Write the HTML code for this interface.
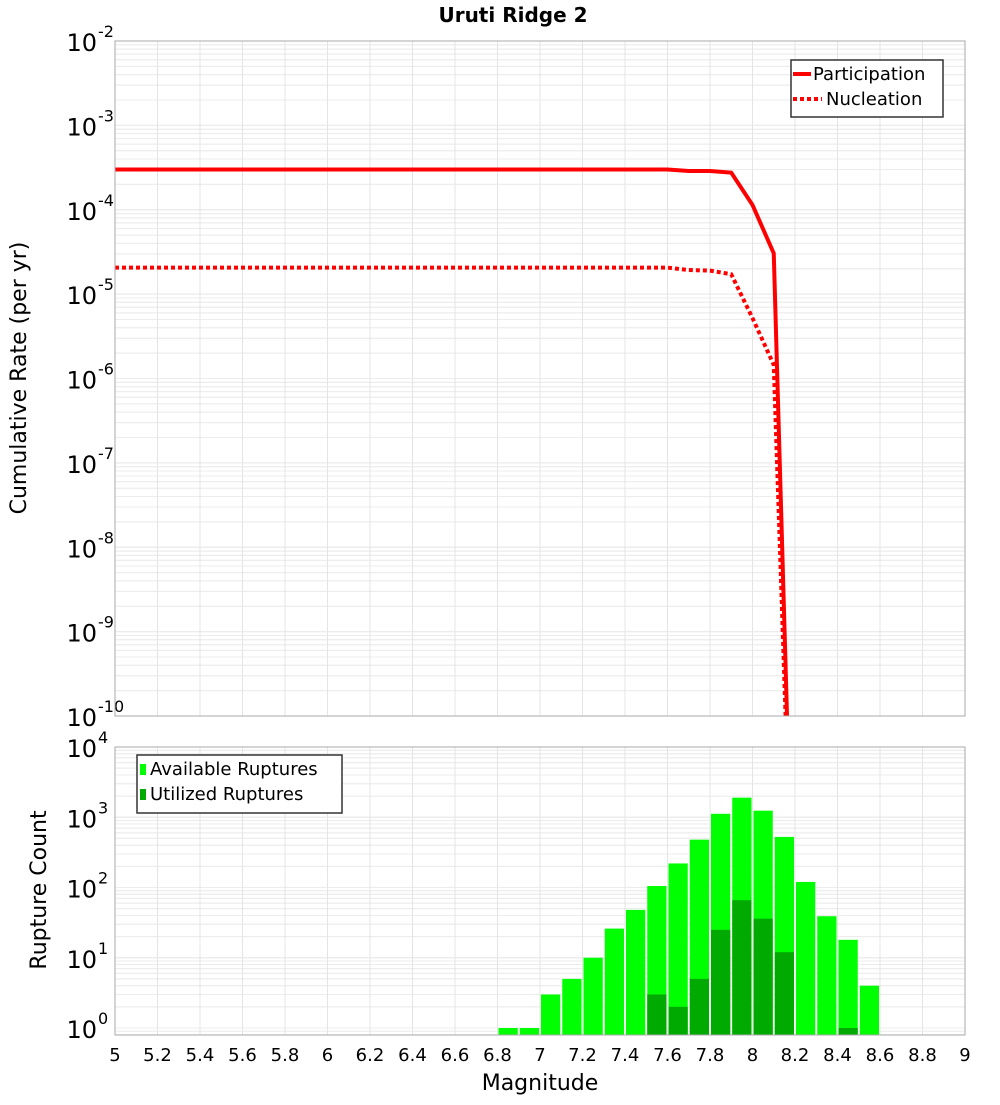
<!DOCTYPE html>
<html><head><meta charset="utf-8"><style>
body{margin:0;background:#fff;font-family:"Liberation Sans","DejaVu Sans",sans-serif}
</style></head><body>
<svg id="chart" width="1000" height="1100" xmlns="http://www.w3.org/2000/svg" font-family="DejaVu Sans, Liberation Sans, sans-serif">
<text x="513" y="22" text-anchor="middle" font-size="20" font-weight="bold">Uruti Ridge 2</text>
<g id="topg"></g><g id="botg"></g>
<text transform="translate(26,378) rotate(-90)" text-anchor="middle" font-size="22">Cumulative Rate (per yr)</text>
<text transform="translate(46,890) rotate(-90)" text-anchor="middle" font-size="22">Rupture Count</text>
<text x="540" y="1090" text-anchor="middle" font-size="22">Magnitude</text>
</svg>
<script>
const mags=[5,5.1,5.2,5.3,5.4,5.5,5.6,5.7,5.8,5.9,6,6.1,6.2,6.3,6.4,6.5,6.6,6.7,6.8,6.9,7,7.1,7.2,7.3,7.4,7.5,7.6,7.7,7.8,7.9,8.0,8.1,8.2];
const partic=[3e-4,3e-4,3e-4,3e-4,3e-4,3e-4,3e-4,3e-4,3e-4,3e-4,3e-4,3e-4,3e-4,3e-4,3e-4,3e-4,3e-4,3e-4,3e-4,3e-4,3e-4,3e-4,3e-4,3e-4,3e-4,3e-4,3e-4,2.88e-4,2.88e-4,2.75e-4,1.14e-4,3.05e-5,5e-14];
const nucl=[2.06e-5,2.06e-5,2.06e-5,2.06e-5,2.06e-5,2.06e-5,2.06e-5,2.06e-5,2.06e-5,2.06e-5,2.06e-5,2.06e-5,2.06e-5,2.06e-5,2.06e-5,2.06e-5,2.06e-5,2.06e-5,2.06e-5,2.06e-5,2.06e-5,2.06e-5,2.06e-5,2.06e-5,2.06e-5,2.06e-5,2.06e-5,1.93e-5,1.9e-5,1.72e-5,5.2e-6,1.45e-6,5e-14];
const binCenters=[6.85,6.95,7.05,7.15,7.25,7.35,7.45,7.55,7.65,7.75,7.85,7.95,8.05,8.15,8.25,8.35,8.45,8.55];
const available=[1,1,3,5,10,26,48,105,220,480,1120,1900,1240,525,120,39,18,4];
const utilized=[0,0,0,0,0,0,0,3,2,5,25,66,36,12,0,0,1,0];
const xTicks=[5,5.2,5.4,5.6,5.8,6,6.2,6.4,6.6,6.8,7,7.2,7.4,7.6,7.8,8,8.2,8.4,8.6,8.8,9];
const topExps=[-10,-9,-8,-7,-6,-5,-4,-3,-2];
const botExps=[0,1,2,3,4];

const NS="http://www.w3.org/2000/svg";
const X0=115,X1=965;
const xs=m=>X0+(m-5)/4*(X1-X0);
const T0=41,T1=716; const yTop=v=>T0+(-2-Math.log10(v))*(T1-T0)/8;
const B0=747,B1=1035,BD=70.25; const yBot=v=>B0+(4-Math.log10(v))*BD;
function mk(p,t,a){const e=document.createElementNS(NS,t);for(const k in a)e.setAttribute(k,a[k]);p.appendChild(e);return e;}
function panel(g,y0,y1,exps,yf,name){
  mk(g,'rect',{x:X0,y:y0,width:X1-X0,height:y1-y0,fill:'#fff'});
  for(let i=0;i<exps.length;i++){const d=exps[i];
    for(let k=1;k<10;k++){const y=yf(k*Math.pow(10,d));if(y<y0-0.5||y>y1+0.5)continue;
      mk(g,'line',{x1:X0,x2:X1,y1:y,y2:y,stroke:k==1?'#dcdcdc':'#ececec','stroke-width':1});}
    for(let k=1;k<10;k++){const y=yf(k*Math.pow(10,d-1));if(y<y0||y>y1)continue;
      mk(g,'line',{x1:X0,x2:X1,y1:y,y2:y,stroke:'#ececec','stroke-width':1});}
  }
  xTicks.forEach(m=>mk(g,'line',{x1:xs(m),x2:xs(m),y1:y0,y2:y1,stroke:'#e4e4e4','stroke-width':1}));
  for(let i=0;i<exps.length;i++){const d=exps[i];
    const y=yf(Math.pow(10,d));
    const t=mk(g,'text',{x:97,y:y+10,'text-anchor':'end','font-size':24});
    
    
    t.textContent='10';
    const s=mk(g,'text',{x:98,y:y-4,'font-size':16});
    
    
    s.textContent=String(d);
  }
}
const topG=document.getElementById('topg'),botG=document.getElementById('botg');
panel(topG,T0,T1,topExps,yTop,'rate');
panel(botG,B0,B1,botExps,yBot,'count');
const defs=mk(document.getElementById('chart'),'defs',{});
const cp=mk(defs,'clipPath',{id:'ct'});mk(cp,'rect',{x:X0,y:T0,width:X1-X0,height:T1-T0});
function line(arr,dash,name){
  const p=mk(topG,'polyline',{points:arr.map((v,i)=>xs(mags[i])+','+yTop(v)).join(' '),fill:'none',stroke:'#ff0000','stroke-width':4,'clip-path':'url(#ct)'});
  if(dash)p.setAttribute('stroke-dasharray','4,3');
  
  
}
line(partic,false,'participation-line');line(nucl,true,'nucleation-line');
mk(topG,'rect',{x:X0,y:T0,width:X1-X0,height:T1-T0,fill:'none',stroke:'#aaa'});
const bw=xs(5.1)-xs(5);
binCenters.forEach((c,i)=>{
  const r=mk(botG,'rect',{x:xs(c)-bw/2+1,y:yBot(available[i]),width:bw-2,height:B1-yBot(available[i]),fill:'#00ff00'});
  
  
  if(utilized[i]>0){const u=mk(botG,'rect',{x:xs(c)-bw/2+1,y:yBot(utilized[i]),width:bw-2,height:B1-yBot(utilized[i]),fill:'#00aa00'});
  
  }
});
mk(botG,'rect',{x:X0,y:B0,width:X1-X0,height:B1-B0,fill:'none',stroke:'#aaa'});
xTicks.forEach(m=>{const t=mk(botG,'text',{x:xs(m),y:1061,'text-anchor':'middle','font-size':18});
  
  
  t.textContent=String(m);});
function legend(g,x,y,w,h,items){
  const b=mk(g,'rect',{x:x,y:y,width:w,height:h,fill:'#fff',stroke:'#333','stroke-width':1.5});
  
  
  items.forEach((it,i)=>{const cy=y+14+i*25;it.draw(cy);
    const t=mk(g,'text',{x:it.tx,y:cy+6,'font-size':18});
    
    
    t.textContent=it.label;});
}
legend(topG,791,60,152,57,[
 {label:'Participation',tx:813,draw:cy=>mk(topG,'line',{x1:793,x2:811,y1:cy,y2:cy,stroke:'#f00','stroke-width':4})},
 {label:'Nucleation',tx:826,draw:cy=>mk(topG,'line',{x1:793,x2:822,y1:cy,y2:cy,stroke:'#f00','stroke-width':4,'stroke-dasharray':'4,3'})}]);
legend(botG,137,755,205,58,[
 {label:'Available Ruptures',tx:150,draw:cy=>mk(botG,'rect',{x:140,y:cy-5,width:6,height:11,fill:'#00ff00'})},
 {label:'Utilized Ruptures',tx:150,draw:cy=>mk(botG,'rect',{x:140,y:cy-5,width:6,height:11,fill:'#00aa00'})}]);
</script>
</body></html>
